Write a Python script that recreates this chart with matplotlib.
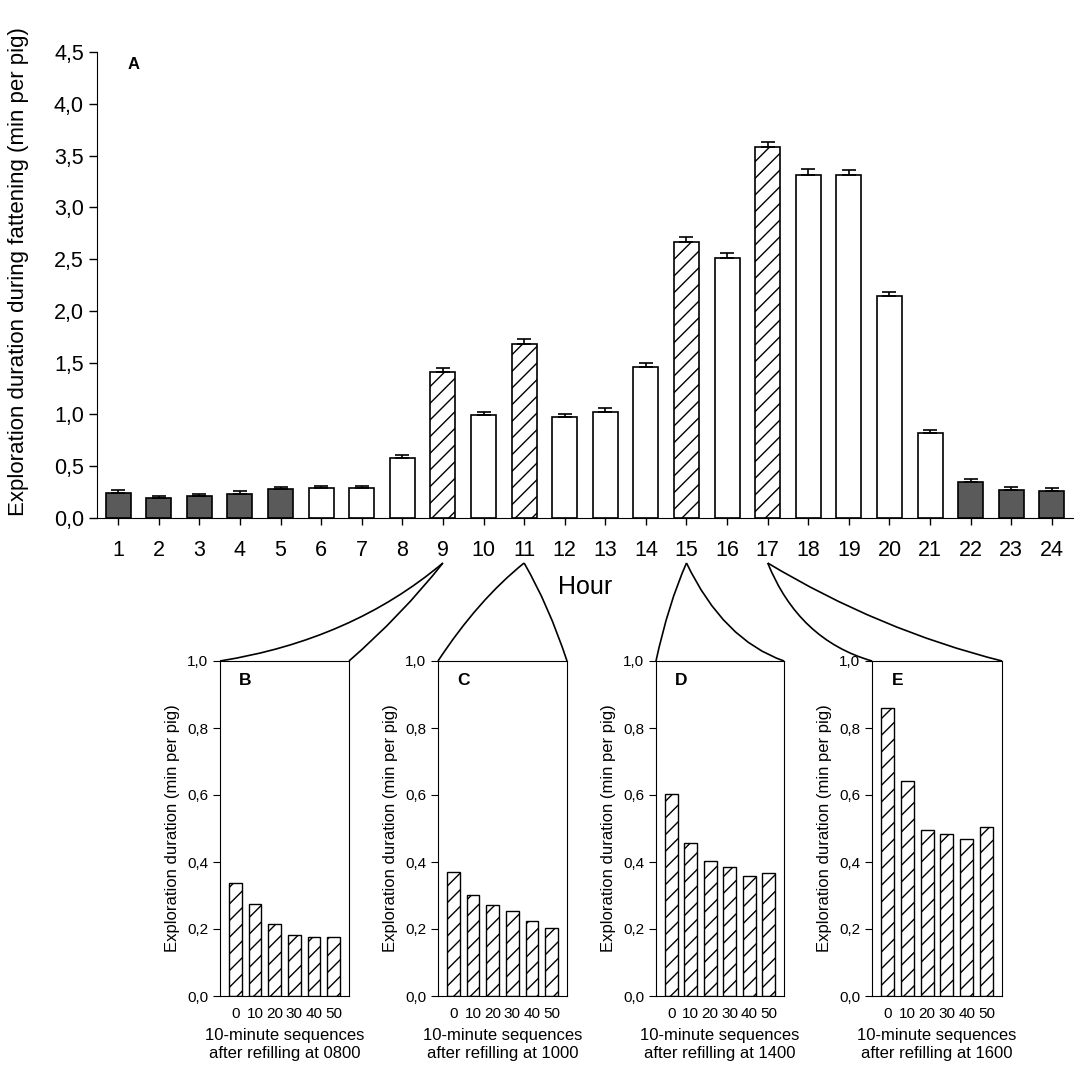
import numpy as np
import matplotlib
matplotlib.use('Agg')
import matplotlib.pyplot as plt
from matplotlib.ticker import FuncFormatter, MultipleLocator
from matplotlib.path import Path
from matplotlib.patches import PathPatch

plt.rcParams['font.family'] = ['Liberation Sans', 'DejaVu Sans']
plt.rcParams['hatch.linewidth'] = 1.0

# panel A: hourly exploration duration
hours = list(range(1, 25))
hour_means = [0.245, 0.197, 0.215, 0.235, 0.277, 0.287, 0.294, 0.58, 1.409, 0.993, 1.682, 0.976,
              1.021, 1.461, 2.662, 2.506, 3.579, 3.316, 3.309, 2.139, 0.82, 0.343, 0.273, 0.26]
hour_err = [0.025, 0.013, 0.02, 0.021, 0.021, 0.018, 0.014, 0.026, 0.038, 0.032, 0.045, 0.028,
            0.038, 0.038, 0.052, 0.052, 0.056, 0.055, 0.056, 0.042, 0.028, 0.031, 0.028, 0.027]
# 'dark' = night, 'white' = day, 'hatch' = refilling hours
hour_kind = ['dark'] * 5 + ['white'] * 3 + ['hatch', 'white', 'hatch', 'white', 'white', 'white',
             'hatch', 'white', 'hatch'] + ['white'] * 4 + ['dark'] * 3

# panels B-E: 10-minute sequences after refilling
seq_minutes = [0, 10, 20, 30, 40, 50]
refill_hours = [9, 11, 15, 17]
refill_labels = ['0800', '1000', '1400', '1600']
panel_letters = ['B', 'C', 'D', 'E']
seq_B = [0.337, 0.276, 0.215, 0.183, 0.175, 0.175]
seq_C = [0.37, 0.301, 0.273, 0.255, 0.225, 0.204]
seq_D = [0.604, 0.456, 0.402, 0.385, 0.359, 0.367]
seq_E = [0.861, 0.641, 0.496, 0.485, 0.47, 0.503]
seq_values = [seq_B, seq_C, seq_D, seq_E]

W = H = 1084.0
comma = FuncFormatter(lambda v, p: ('%.1f' % v).replace('.', ','))

fig = plt.figure(figsize=(W / 100, H / 100), dpi=100)

def rect(l, r, t, b):
    return [l / W, 1 - b / H, (r - l) / W, (b - t) / H]

ax = fig.add_axes(rect(97, 1073, 52, 518))
for h, v, k in zip(hours, hour_means, hour_kind):
    if k == 'dark':
        ax.bar(h, v, width=0.62, color='#5a5a5a', edgecolor='black', linewidth=1.2, zorder=2)
    elif k == 'hatch':
        ax.bar(h, v, width=0.62, color='white', edgecolor='black', linewidth=1.2, hatch='//', zorder=2)
    else:
        ax.bar(h, v, width=0.62, color='white', edgecolor='black', linewidth=1.2, zorder=2)
ax.errorbar(hours, hour_means, yerr=[np.zeros(len(hours)), hour_err], fmt='none',
            ecolor='black', elinewidth=1.2, capsize=5, capthick=1.2, zorder=3)
ax.set_xlim(0.48, 24.52)
ax.set_ylim(0, 4.5)
ax.yaxis.set_major_locator(MultipleLocator(0.5))
ax.yaxis.set_major_formatter(comma)
ax.set_xticks(hours)
ax.spines['top'].set_visible(False)
ax.spines['right'].set_visible(False)
ax.tick_params(axis='both', direction='out', labelsize=15.5, width=1, length=6)
ax.tick_params(axis='x', length=5, pad=11)
ax.set_ylabel('Exploration duration during fattening (min per pig)', fontsize=16, labelpad=8)
ax.yaxis.set_label_coords(-0.07, 0.528)
ax.set_xlabel('Hour', fontsize=18, labelpad=10)
ax.text(0.031, 0.99, 'A', transform=ax.transAxes, fontsize=12, fontweight='bold', va='top')

sub_lr = [(220, 349), (438, 567), (656, 784), (872, 1002)]
subs = []
for i in range(4):
    l, r = sub_lr[i]
    sa = fig.add_axes(rect(l, r, 661, 996))
    sa.bar(seq_minutes, seq_values[i], width=6.5, color='white', edgecolor='black',
           linewidth=1.0, hatch='//')
    sa.set_xlim(-7.8, 57.8)
    sa.set_ylim(0, 1.0)
    sa.yaxis.set_major_locator(MultipleLocator(0.2))
    sa.yaxis.set_major_formatter(comma)
    sa.set_xticks(seq_minutes)
    sa.tick_params(axis='y', direction='out', labelsize=11, length=5)
    sa.tick_params(axis='x', length=0, labelsize=11, pad=8)
    sa.set_ylabel('Exploration duration (min per pig)', fontsize=12, labelpad=5)
    sa.set_xlabel('10-minute sequences\nafter refilling at ' + refill_labels[i], fontsize=12,
                  labelpad=5, linespacing=1.25)
    sa.text(0.15, 0.965, panel_letters[i], transform=sa.transAxes, fontsize=12.5,
            fontweight='bold', va='top')
    subs.append(sa)

# connector curves from the hour label down to the zoomed panels
fig.canvas.draw()
bends = [((20, 28), (6, 3)), ((-3, -12), (3, -7)), ((-3, -8), (-12, 28)), ((-21, 28), (-6, 18))]
for i, hr in enumerate(refill_hours):
    apex_x = ax.transData.transform((hr, 0))[0]
    apex_y = ax.transData.transform((hr, 0))[1] - 45
    bb = subs[i].get_window_extent()
    for (cx, cy), end in zip(bends[i], [(bb.x0, bb.y1), (bb.x1, bb.y1)]):
        mx = (apex_x + end[0]) / 2 + cx
        my = (apex_y + end[1]) / 2 - cy
        p = Path([(apex_x, apex_y), (mx, my), end], [Path.MOVETO, Path.CURVE3, Path.CURVE3])
        fig.patches.append(PathPatch(p, transform=None, facecolor='none', edgecolor='black',
                                     linewidth=1.2))

fig.savefig('out.png', dpi=100)
